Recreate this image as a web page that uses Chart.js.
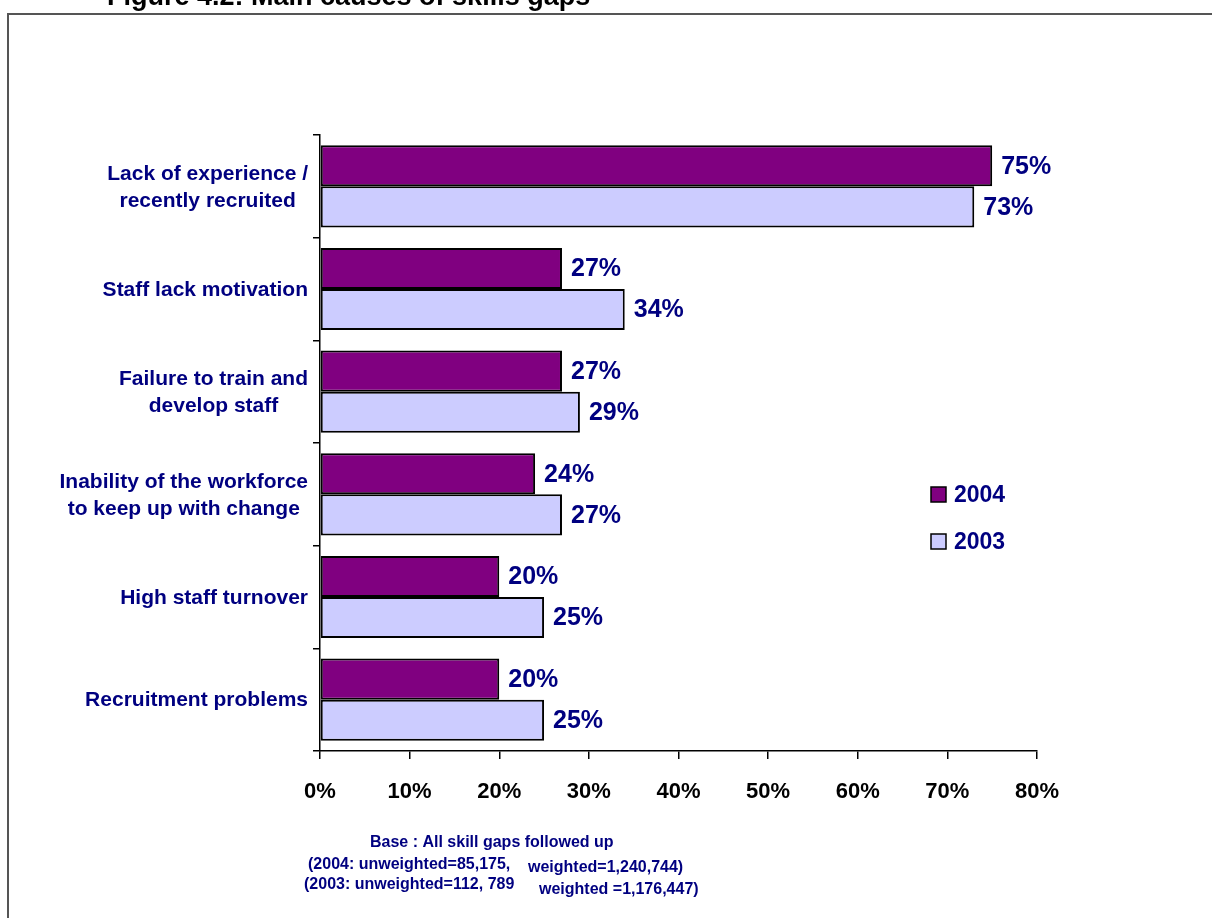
<!DOCTYPE html>
<html>
<head>
<meta charset="utf-8">
<script src="https://cdn.jsdelivr.net/npm/chart.js@4/dist/chart.umd.min.js"></script>
<style>
  body { margin: 0; background: #fff; }
  canvas { display: block; }
</style>
</head>
<body>
<canvas id="chart" width="1212" height="918"></canvas>
<script>
// Data
const categories = [
   ['Lack of experience /', 'recently recruited'],
   ['Staff lack motivation'],
   ['Failure to train and', 'develop staff'],
   ['Inability of the workforce', 'to keep up with change'],
   ['High staff turnover'],
   ['Recruitment problems']
];
const years = ['2004', '2003'];
const values2004 = [75, 27, 27, 24, 20, 20];
const values2003 = [73, 34, 29, 27, 25, 25];
const xTicks = [0, 10, 20, 30, 40, 50, 60, 70, 80];

const NAVY = '#000080';
const FONT = '"Liberation Sans", Arial, sans-serif';
const colors = ['#800080', '#CCCCFF'];

// Frame, title, labels, legend and footnote drawn on the canvas
const decorations = {
   id: 'decorations',
   beforeDraw(chart) {
      const ctx = chart.ctx;
      ctx.save();
      ctx.strokeStyle = '#555';
      ctx.lineWidth = 2;
      ctx.beginPath();
      ctx.moveTo(8, 918);
      ctx.lineTo(8, 14);
      ctx.lineTo(1212, 14);
      ctx.stroke();

      ctx.fillStyle = '#000';
      ctx.font = 'bold 27px ' + FONT;
      ctx.textBaseline = 'alphabetic';
      ctx.textAlign = 'left';
      ctx.fillText('Figure 4.2: Main causes of skills gaps', 107, 5);
      ctx.restore();
   },
   afterDatasetsDraw(chart) {
      const ctx = chart.ctx;
      ctx.save();

      // value labels at the bar ends
      ctx.font = 'bold 25px ' + FONT;
      ctx.fillStyle = NAVY;
      ctx.textBaseline = 'middle';
      ctx.textAlign = 'left';
      chart.data.datasets.forEach((ds, di) => {
         chart.getDatasetMeta(di).data.forEach((bar, i) => {
            ctx.fillText(ds.data[i] + '%', bar.x + 9, bar.y + 1);
         });
      });

      // category labels, lines centred within each block
      const yScale = chart.scales.y;
      const right = chart.chartArea.left - 12;
      const lh = 27;
      ctx.font = 'bold 21px ' + FONT;
      ctx.textAlign = 'center';
      categories.forEach((lines, i) => {
         const cy = yScale.getPixelForValue(i);
         const bw = Math.max(...lines.map(l => ctx.measureText(l).width));
         const cx = right - bw / 2;
         const y0 = cy - (lines.length - 1) * lh / 2;
         lines.forEach((l, k) => ctx.fillText(l, cx, y0 + k * lh + 1));
      });

      // legend
      ctx.textAlign = 'left';
      ctx.font = 'bold 23px ' + FONT;
      years.forEach((y, i) => {
         const top = 487 + i * 47;
         ctx.fillStyle = colors[i];
         ctx.fillRect(931, top, 15, 15);
         ctx.strokeStyle = '#000';
         ctx.lineWidth = 1.5;
         ctx.strokeRect(931, top, 15, 15);
         ctx.fillStyle = NAVY;
         ctx.fillText(y, 954, top + 9);
      });

      // base note
      ctx.font = 'bold 16px ' + FONT;
      ctx.fillText('Base : All skill gaps followed up', 370, 843);
      ctx.fillText('(2004: unweighted=85,175,', 308, 865);
      ctx.fillText('weighted=1,240,744)', 528, 868);
      ctx.fillText('(2003: unweighted=112, 789', 304, 885);
      ctx.fillText('weighted =1,176,447)', 539, 890);
      ctx.restore();
   }
};

const chart = new Chart(document.getElementById('chart').getContext('2d'), {
   type: 'bar',
   data: {
      labels: categories,
      datasets: [
         {
            label: years[0],
            data: values2004,
            backgroundColor: colors[0],
            borderColor: '#000',
            borderWidth: 2,
            borderSkipped: false
         },
         {
            label: years[1],
            data: values2003,
            backgroundColor: colors[1],
            borderColor: '#000',
            borderWidth: 2,
            borderSkipped: false
         }
      ]
   },
   options: {
      indexAxis: 'y',
      responsive: false,
      animation: false,
      layout: { padding: { top: 135, right: 175, left: 0, bottom: 117 } },
      datasets: { bar: { categoryPercentage: 0.8, barPercentage: 1.0 } },
      plugins: {
         legend: { display: false },
         tooltip: { enabled: false }
      },
      scales: {
         x: {
            min: xTicks[0],
            max: xTicks[xTicks.length - 1],
            afterFit(scale) { scale.height = 50; },
            afterBuildTicks(scale) { scale.ticks = xTicks.map(v => ({ value: v })); },
            ticks: {
               callback: v => v + '%',
               color: '#000',
               font: { family: FONT, size: 22, weight: 'bold' },
               padding: 20
            },
            grid: { drawOnChartArea: false, drawTicks: true, tickLength: 8, color: '#000', lineWidth: 1.5 },
            border: { color: '#000', width: 1.5 }
         },
         y: {
            afterFit(scale) { scale.width = 320; },
            ticks: { display: false },
            grid: { drawOnChartArea: false, drawTicks: true, tickLength: 7, color: '#000', lineWidth: 1.5, offset: true },
            border: { color: '#000', width: 1.5 }
         }
      }
   },
   plugins: [decorations]
});
</script>
</body>
</html>
